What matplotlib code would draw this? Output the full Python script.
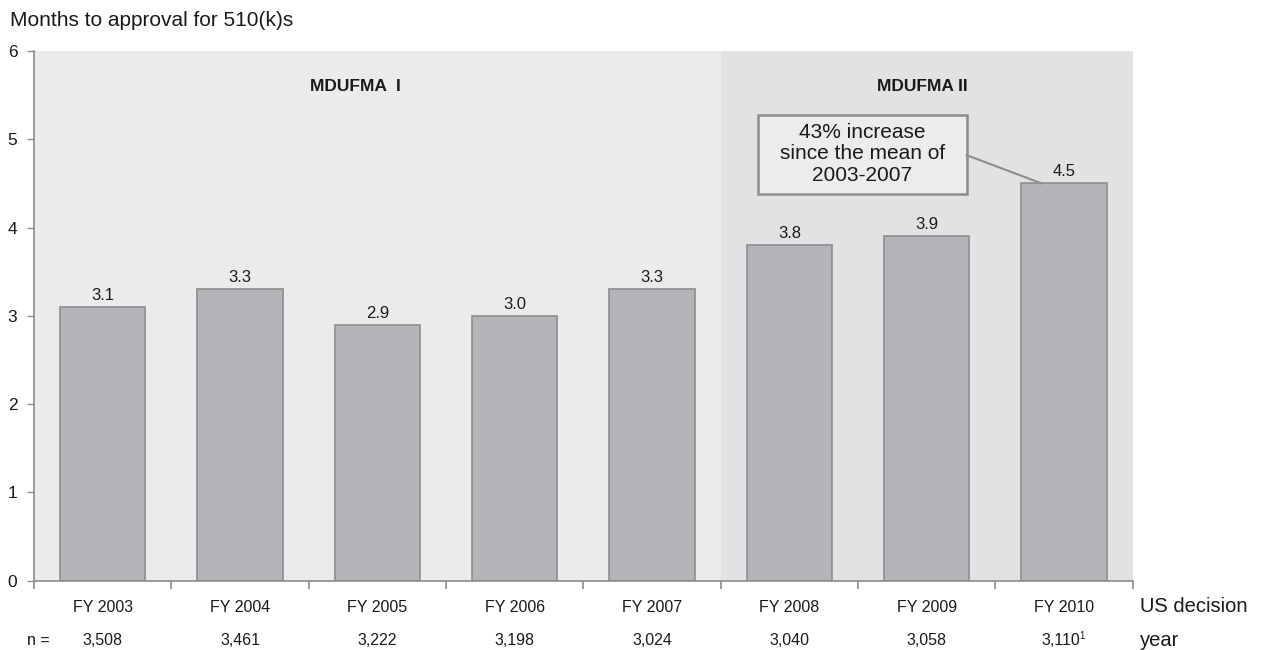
import matplotlib
matplotlib.use("Agg")
import matplotlib.pyplot as plt
from matplotlib.patches import Rectangle

plt.rcParams['font.family'] = ['Liberation Sans', 'DejaVu Sans']

years = ["FY 2003", "FY 2004", "FY 2005", "FY 2006", "FY 2007",
         "FY 2008", "FY 2009", "FY 2010"]
months = [3.1, 3.3, 2.9, 3.0, 3.3, 3.8, 3.9, 4.5]
counts = ["3,508", "3,461", "3,222", "3,198", "3,024", "3,040", "3,058", "3,110"]
count_notes = ["", "", "", "", "", "", "", "1"]
periods = ["MDUFMA  I", "MDUFMA II"]
period_split = 4.5  # boundary between the two periods (between FY2007 and FY2008)

TEXT = "#1a1a1a"
SPINE = "#8c8c8c"
BG_I = "#ebebec"
BG_II = "#e2e2e4"
BAR = "#b4b5b8"
BAR_EDGE = "#8e8e90"

fig = plt.figure(figsize=(12.66, 6.5), dpi=100)
ax = fig.add_axes([34 / 1266, 1 - 580.7 / 650, (1132.7 - 34) / 1266, (580.7 - 51) / 650])

x = list(range(len(years)))
xmin, xmax = -0.5, len(years) - 0.5
ax.set_xlim(xmin, xmax)
ax.set_ylim(0, 6)

# period shading
ax.add_patch(Rectangle((xmin, 0), period_split - xmin, 6, facecolor=BG_I,
                       edgecolor="none", zorder=0))
ax.add_patch(Rectangle((period_split, 0), xmax - period_split, 6, facecolor=BG_II,
                       edgecolor="none", zorder=0))

bars = ax.bar(x, months, width=0.62, color=BAR, edgecolor=BAR_EDGE,
              linewidth=1.2, zorder=2)
for xi, v in zip(x, months):
    ax.annotate(f"{v:.1f}", (xi, v), xytext=(0, 3), textcoords="offset points",
                ha="center", va="bottom", fontsize=12, color=TEXT, zorder=3)

ax.text(1.84, 5.6, periods[0], ha="center", va="center", fontsize=12.5,
        fontweight="bold", color=TEXT)
ax.text(5.97, 5.6, periods[1], ha="center", va="center", fontsize=12.5,
        fontweight="bold", color=TEXT)

# callout box and leader line
box_l, box_r, box_b, box_t = 4.772, 6.291, 4.38, 5.27
ax.add_patch(Rectangle((box_l, box_b), box_r - box_l, box_t - box_b,
                       facecolor="#ececec", edgecolor=SPINE, linewidth=1.8, zorder=4))
ax.plot([box_r, 6.837], [4.82, months[-1]], color=SPINE, linewidth=1.5, zorder=4)
ax.text((box_l + box_r) / 2, (box_b + box_t) / 2 + 0.01,
        "43% increase\nsince the mean of\n2003-2007",
        ha="center", va="center", fontsize=15, color=TEXT, linespacing=1.17, zorder=5)

# axes styling
for side in ("top", "right"):
    ax.spines[side].set_visible(False)
for side in ("left", "bottom"):
    ax.spines[side].set_color(SPINE)
    ax.spines[side].set_linewidth(1.2)

ax.set_yticks(range(7))
ax.tick_params(axis="y", length=5, width=1, color=SPINE, pad=7,
               labelsize=12.5, labelcolor=TEXT)
ax.set_xticks([i + 0.5 for i in range(-1, len(years))])
ax.set_xticklabels([])
ax.tick_params(axis="x", length=6, width=1.2, color=SPINE)

# category labels and sample sizes under the axis
for xi, yr, n, note in zip(x, years, counts, count_notes):
    ax.text(xi, -0.3, yr, ha="center", va="center", fontsize=11.5, color=TEXT,
            clip_on=False)
    if note:
        ax.annotate(n, (xi, -0.68), xytext=(-3, 0), textcoords="offset pixels",
                    ha="center", va="center", fontsize=11.5, color=TEXT,
                    annotation_clip=False)
        ax.annotate(note, (xi, -0.68), xytext=(15, 5), textcoords="offset pixels",
                    ha="left", va="center", fontsize=7, color=TEXT,
                    annotation_clip=False)
    else:
        ax.text(xi, -0.68, n, ha="center", va="center", fontsize=11.5, color=TEXT,
                clip_on=False)
ax.text(-0.47, -0.68, "n =", ha="center", va="center", fontsize=11.5, color=TEXT,
        clip_on=False)

fig.text(1140 / 1266, 1 - 606 / 650, "US decision", ha="left", va="center",
         fontsize=14.5, color=TEXT)
fig.text(1140 / 1266, 1 - 640 / 650, "year", ha="left", va="center",
         fontsize=14.5, color=TEXT)

fig.text(10 / 1266, 1 - 20 / 650, "Months to approval for 510(k)s", ha="left",
         va="center", fontsize=15, color=TEXT)

fig.savefig("out.png", dpi=100, facecolor="white")
